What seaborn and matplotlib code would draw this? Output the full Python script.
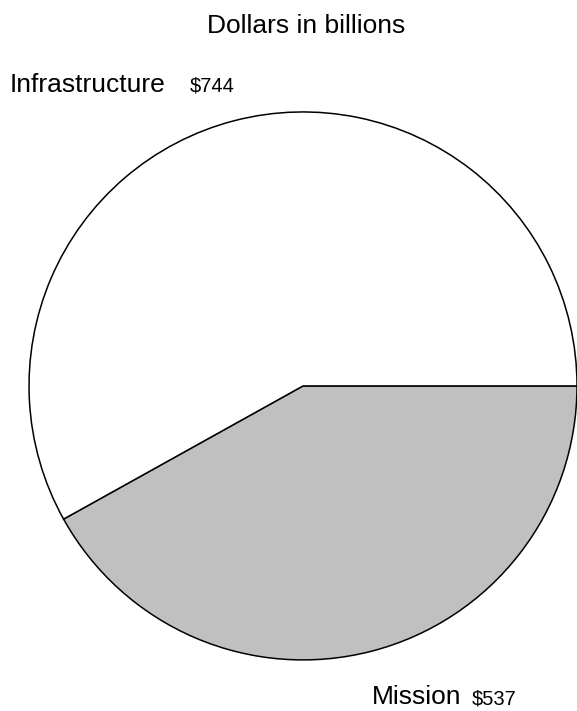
import matplotlib.pyplot as plt
import seaborn as sns

sns.set_theme(style="white")
plt.rcParams['font.family'] = ['Liberation Sans', 'DejaVu Sans']
plt.rcParams['text.color'] = 'black'

categories = ["Mission", "Infrastructure"]
values = [537, 744]
colors = ["#c0c0c0", "#ffffff"]

fig = plt.figure(figsize=(5.77, 7.11), dpi=100)
ax = fig.add_axes([0.0503, 0.0717, 0.9497, 0.771])

ax.pie(values, colors=colors, startangle=0, counterclock=False, radius=1,
       wedgeprops=dict(edgecolor="black", linewidth=1.1))
ax.set_xlim(-1, 1)
ax.set_ylim(-1, 1)
ax.set_aspect("equal")
ax.axis("off")

# labels with values
label_pos = {"Infrastructure": (-1.069, 1.073, -0.412), "Mission": (0.252, -1.161, 0.617)}
for cat, val in zip(categories, values):
    x, y, xv = label_pos[cat]
    ax.text(x, y, cat, fontsize=19, color="black", ha="left", va="baseline", clip_on=False)
    ax.text(xv, y, f"${val}", fontsize=14.5, color="black", ha="left", va="baseline", clip_on=False)

fig.text(0.530, 1 - 33 / 711, "Dollars in billions", fontsize=19, color="black",
         ha="center", va="baseline")

fig.savefig("out.png", dpi=100)
